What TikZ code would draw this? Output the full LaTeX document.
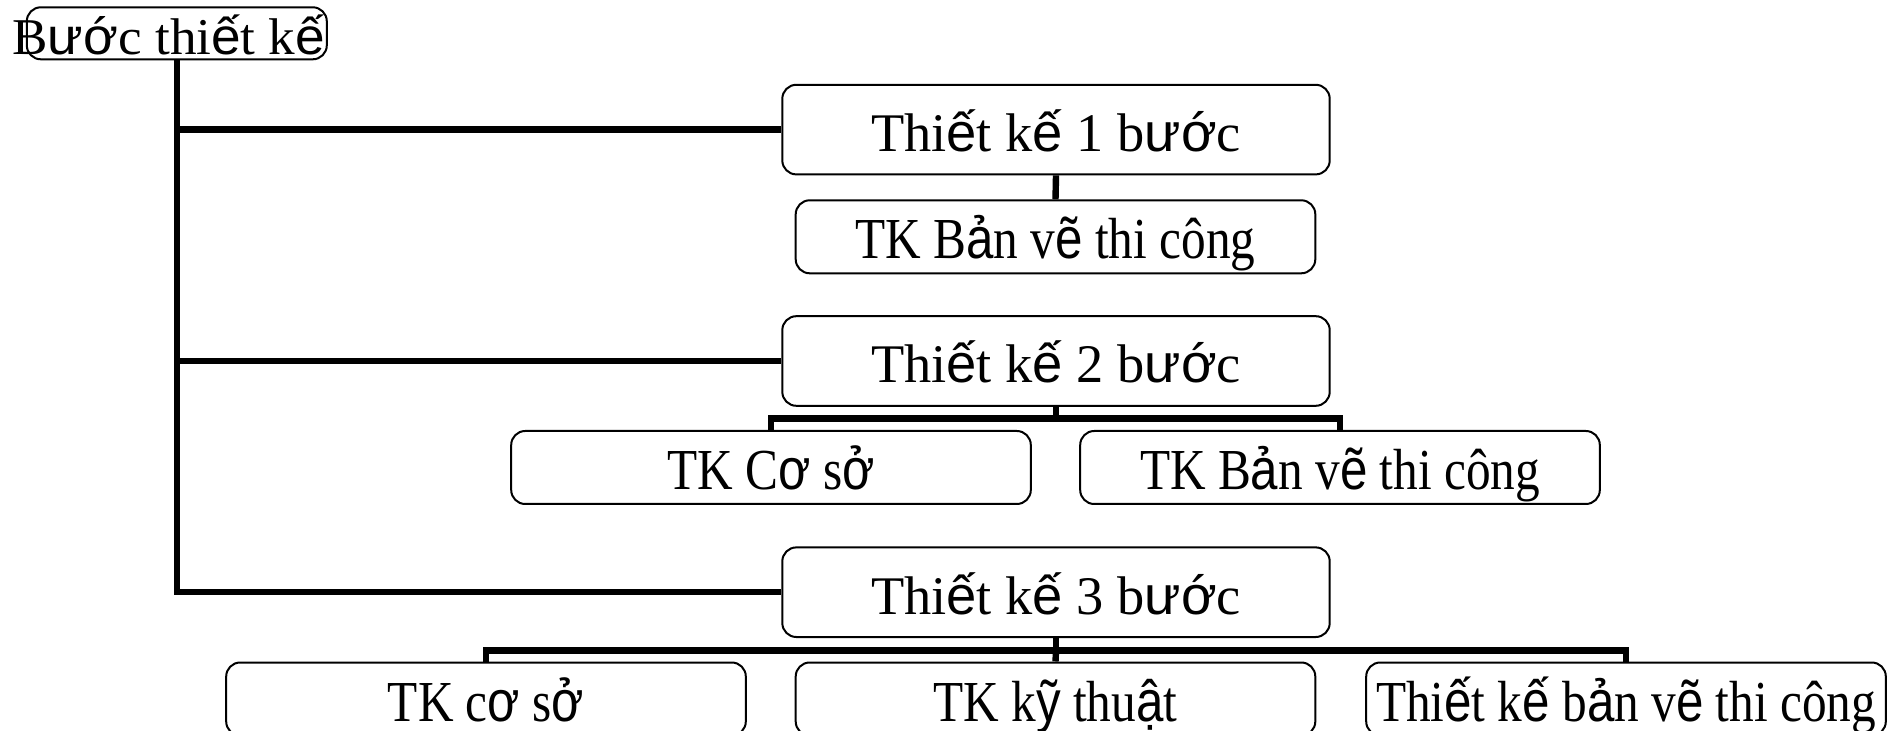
\documentclass[tikz,border=0pt]{standalone}
\usepackage{fontspec}
\setmainfont{Liberation Serif}
\newfontfamily\stepsans{Liberation Sans}
\newfontfamily\leaffont[FakeStretch=0.85]{Liberation Serif}
\newfontfamily\leafsans[FakeStretch=0.85]{Liberation Sans}
\newfontfamily\rootfont[FakeStretch=1.03]{Liberation Serif}
\newfontfamily\rootsans[FakeStretch=1.03]{Liberation Sans}
% letters with Vietnamese marks are set in the sans companion face
\newcommand\vnfam{\stepsans}
\newcommand\fb[1]{{\vnfam#1}}
\tikzset{
  box/.style={draw, line width=1pt, rounded corners=7pt, inner sep=0pt,
    text height=22pt, text depth=0pt, anchor=center},
  stepbox/.style={box, minimum width=273.7pt, minimum height=44.8pt,
    font=\renewcommand\vnfam{\stepsans}\fontsize{27.2pt}{30pt}\selectfont},
  leafbox/.style={box, minimum width=259.8pt, minimum height=36.5pt,
    font=\leaffont\renewcommand\vnfam{\leafsans}\fontsize{29pt}{31pt}\selectfont},
  rootbox/.style={box, minimum width=150pt, minimum height=26pt,
    text height=21pt,
    font=\rootfont\renewcommand\vnfam{\rootsans}\fontsize{25.8pt}{27pt}\selectfont},
  link/.style={line width=3.2pt, line join=miter}
}
\begin{document}
\begin{tikzpicture}[x=0.5pt, y=-0.5pt]
  \useasboundingbox (0,0) rectangle (1899,731);
  \clip (0,0) rectangle (1899,731);

  % root and the three design variants
  \node[rootbox] (root) at (176.8,33.3)
    {\makebox[140pt]{\hspace*{-8pt}B\fb{ướ}c thi\fb{ế}t k\fb{ế}}};
  \node[stepbox] (s1) at (1056,129.6) {Thi\fb{ế}t k\fb{ế} 1 b\fb{ướ}c};
  \node[stepbox] (s2) at (1056,361) {Thi\fb{ế}t k\fb{ế} 2 b\fb{ướ}c};
  \node[stepbox] (s3) at (1056,592.2) {Thi\fb{ế}t k\fb{ế} 3 b\fb{ướ}c};

  % stages of each variant
  \node[leafbox] (c1) at (1055.5,236.8) {TK B\fb{ả}n v\fb{ẽ} thi công};
  \node[leafbox] (c2a) at (771,467.5) {TK C\fb{ơ} s\fb{ở}};
  \node[leafbox] (c2b) at (1340,467.5) {TK B\fb{ả}n v\fb{ẽ} thi công};
  \node[leafbox] (c3a) at (486,699) {TK c\fb{ơ} s\fb{ở}};
  \node[leafbox] (c3b) at (1055.5,699) {TK k\fb{ỹ} thu\fb{ậ}t};
  \node[leafbox] (c3c) at (1626,699) {Thi\fb{ế}t k\fb{ế} b\fb{ả}n v\fb{ẽ} thi công};

  % bus lines
  \coordinate (b2) at (1056,418.5);
  \coordinate (b3) at (1056,650.4);

  % trunk with its branches
  \draw[link] (root.south) |- (s3.west);
  \draw[link] (root.south) |- (s1.west);
  \draw[link] (root.south) |- (s2.west);

  % children connectors
  \draw[link] (s1.south) -- (c1.north);
  \draw[link] (s2.south) -- (b2);
  \draw[link] (c2a.north) |- (b2) -| (c2b.north);
  \draw[link] (s3.south) -- (b3);
  \draw[link] (c3a.north) |- (b3) -| (c3c.north);
  \draw[link] (b3) -- (c3b.north);
\end{tikzpicture}
\end{document}
